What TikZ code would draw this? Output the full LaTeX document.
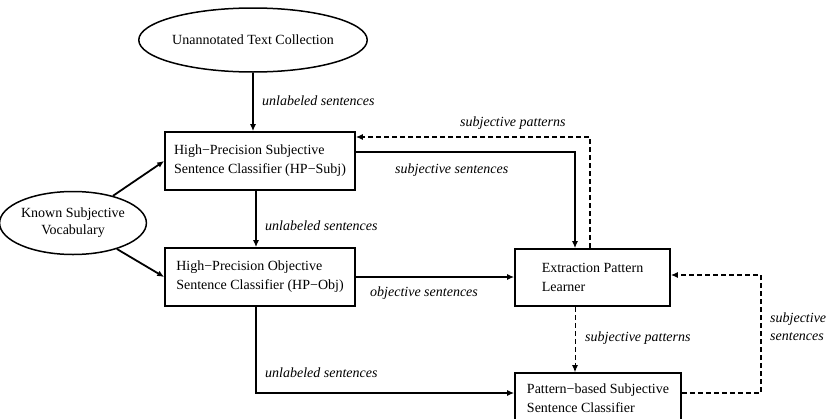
\documentclass[tikz,border=0pt]{standalone}
\usepackage{fontspec}
\setmainfont{Liberation Serif}
\usetikzlibrary{shapes.geometric,arrows.meta}
\tikzset{
  boxnode/.style={draw, line width=1.6pt, rectangle, align=left, inner sep=0pt,
    font=\fontsize{14}{19}\selectfont},
  ellnode/.style={draw, ellipse, line width=1.5pt, inner sep=0pt, align=center,
    font=\fontsize{14}{17}\selectfont},
  lbl/.style={inner sep=0pt, anchor=west, align=left,
    font=\itshape\fontsize{14}{18}\selectfont},
  arr/.style={line width=1.4pt, -{Latex[length=7pt,width=6pt]}},
  darr/.style={line width=1.6pt, dash pattern=on 5pt off 3pt, -{Latex[length=7pt,width=6pt]}},
  tdarr/.style={line width=1pt, dash pattern=on 5pt off 3pt, -{Latex[length=7pt,width=6pt]}}
}
\begin{document}
\begin{tikzpicture}[x=1pt,y=-1pt]
\useasboundingbox (0,0) rectangle (827,418);
\clip (0,0) rectangle (827,418);

\node[ellnode, minimum width=202pt, minimum height=64pt] (unann) at (253,40) {Unannotated Text Collection};
\node[ellnode, minimum width=130pt, minimum height=63pt] (known) at (73,223) {Known Subjective\\Vocabulary};

\node[boxnode, minimum width=190pt, minimum height=58pt] (hpsubj) at (260,161)
  {High−Precision Subjective\\Sentence Classifier (HP−Subj)};
\node[boxnode, minimum width=190pt, minimum height=58pt] (hpobj) at (260,277)
  {High−Precision Objective\\Sentence Classifier (HP−Obj)};
\node[boxnode, minimum width=155pt, minimum height=57pt] (epl) at (592.5,277.5)
  {Extraction Pattern\\Learner};
\node[boxnode, minimum width=166pt, minimum height=50pt] (pattern) at (598,398)
  {Pattern−based Subjective\\Sentence Classifier};

% connectors
\draw[arr] (unann.south) -- (unann.south |- hpsubj.north);
\draw[arr, line width=1.8pt] (known) -- (hpsubj.west);
\draw[arr, line width=1.8pt] (known) -- (hpobj.west);
\draw[arr] ([xshift=-4pt]hpsubj.south) -- ([xshift=-4pt]hpobj.north);
\draw[arr] ([xshift=-4pt]hpobj.south) |- ([yshift=5pt]pattern.west);
\draw[arr] (hpobj.east) -- (hpobj.east -| epl.west);
\draw[arr] ([yshift=9pt]hpsubj.east) -| ([xshift=-17.5pt]epl.north);
\draw[darr] ([xshift=-2.5pt]epl.north) |- ([yshift=24pt]hpsubj.east);
\draw[tdarr] ([xshift=-17.5pt]epl.south) -- ([xshift=-23pt]pattern.north);
\draw[darr] ([yshift=5pt]pattern.east) -- ++(79,0) |- ([yshift=2.5pt]epl.east);

% labels
\node[lbl] (l1) at (262,101) {unlabeled sentences};
\node[lbl] (l2) at (265,226) {unlabeled sentences};
\node[lbl] (l3) at (265,373) {unlabeled sentences};
\node[lbl] (l4) at (460,123) {subjective patterns};
\node[lbl] (l5) at (395,170) {subjective sentences};
\node[lbl] (l6) at (370,293) {objective sentences};
\node[lbl] (l7) at (585,338) {subjective patterns};
\node[lbl] (l8) at (770,327) {subjective\\sentences};
\end{tikzpicture}
\end{document}
